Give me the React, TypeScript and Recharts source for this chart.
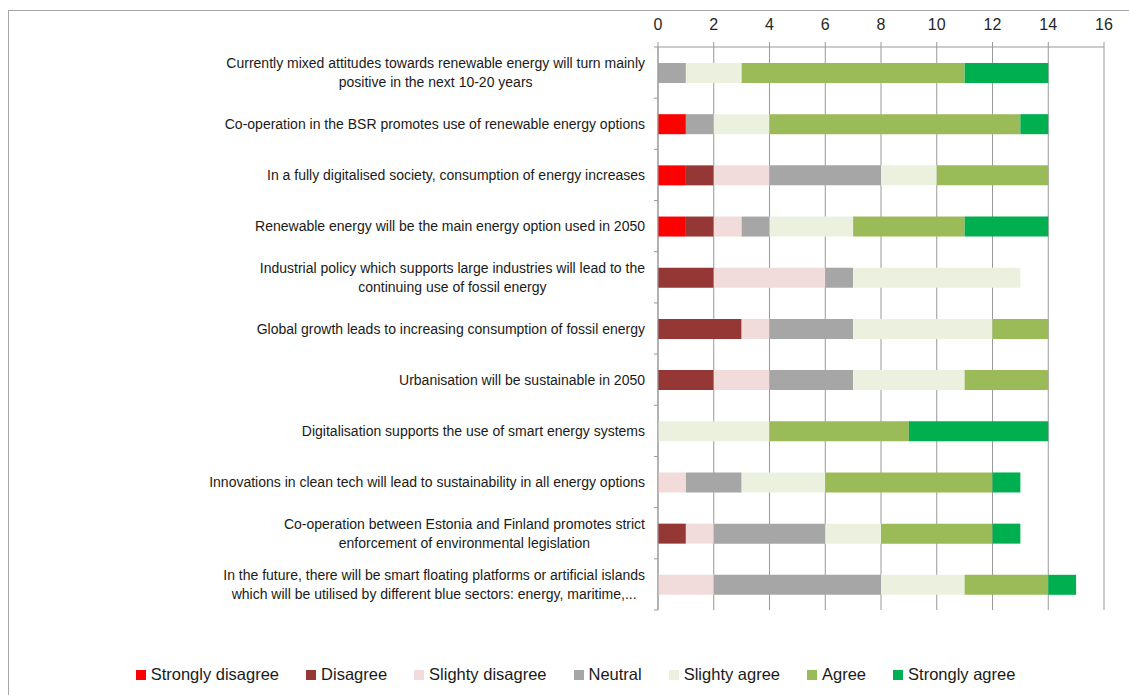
import { BarChart, Bar, XAxis, YAxis, CartesianGrid, Legend } from "recharts";

const statements = [
  "Currently mixed attitudes towards renewable energy will turn mainly\npositive in the next 10-20 years",
  "Co-operation in the BSR promotes use of renewable energy options",
  "In a fully digitalised society, consumption of energy increases",
  "Renewable energy will be the main energy option used in 2050",
  "Industrial policy which supports large industries will lead to the\ncontinuing use of fossil energy",
  "Global growth leads to increasing consumption of fossil energy",
  "Urbanisation will be sustainable in 2050",
  "Digitalisation supports the use of smart energy systems",
  "Innovations in clean tech will lead to sustainability in all energy options",
  "Co-operation between Estonia and Finland promotes strict\nenforcement of environmental legislation",
  "In the future, there will be smart floating platforms or artificial islands\nwhich will be utilised by different blue sectors: energy, maritime,...",
];

const stronglyDisagree = [0, 1, 1, 1, 0, 0, 0, 0, 0, 0, 0];
const disagree = [0, 0, 1, 1, 2, 3, 2, 0, 0, 1, 0];
const slightlyDisagree = [0, 0, 2, 1, 4, 1, 2, 0, 1, 1, 2];
const neutral = [1, 1, 4, 1, 1, 3, 3, 0, 2, 4, 6];
const slightlyAgree = [2, 2, 2, 3, 6, 5, 4, 4, 3, 2, 3];
const agree = [8, 9, 4, 4, 0, 2, 3, 5, 6, 4, 3];
const stronglyAgree = [3, 1, 0, 3, 0, 0, 0, 5, 1, 1, 1];

const xTicks = [0, 2, 4, 6, 8, 10, 12, 14, 16];

const series = [
  { key: "sd", name: "Strongly disagree", color: "#FF0000", values: stronglyDisagree },
  { key: "d", name: "Disagree", color: "#953735", values: disagree },
  { key: "sld", name: "Slighty disagree", color: "#F2DCDB", values: slightlyDisagree },
  { key: "n", name: "Neutral", color: "#A6A6A6", values: neutral },
  { key: "sla", name: "Slighty agree", color: "#EBF1DE", values: slightlyAgree },
  { key: "a", name: "Agree", color: "#9BBB59", values: agree },
  { key: "sa", name: "Strongly agree", color: "#00B050", values: stronglyAgree },
];

const data = statements.map((name, i) => {
  const row: Record<string, string | number> = { name };
  series.forEach((s) => {
    row[s.key] = s.values[i];
  });
  return row;
});

const LABEL_FONT = '14px "Liberation Sans", Arial, sans-serif';
const AXIS_GREY = "#999999";

let measureCtx: CanvasRenderingContext2D | null = null;
const textWidth = (t: string) => {
  if (!measureCtx) {
    measureCtx = document.createElement("canvas").getContext("2d");
  }
  if (!measureCtx) return t.length * 6.3;
  measureCtx.font = LABEL_FONT;
  return measureCtx.measureText(t).width;
};

// category label: lines centred as a block, block right-aligned against the axis,
// plus an Excel-style tick mark at the band boundary
const StatementTick = (props: any) => {
  const { x, y, payload, index } = props;
  const half = payload?.offset ?? 25.6;
  const lines = String(payload.value).split("\n");
  const right = x - 2;
  const blockW = Math.max(...lines.map(textWidth));
  const cx = right - blockW / 2;
  const lh = 19;
  const y0 = y - ((lines.length - 1) * lh) / 2;
  const axisX = x + 11;
  return (
    <g>
      <line x1={axisX - 4} x2={axisX} y1={y - half} y2={y - half} stroke={AXIS_GREY} />
      {index === statements.length - 1 && (
        <line x1={axisX - 4} x2={axisX} y1={y + half} y2={y + half} stroke={AXIS_GREY} />
      )}
      <text
        x={cx}
        y={y0}
        textAnchor="middle"
        dominantBaseline="central"
        style={{ font: LABEL_FONT }}
        fill="#1a1a1a"
      >
        {lines.map((l, i) => (
          <tspan key={i} x={cx} y={y0 + i * lh}>
            {l}
          </tspan>
        ))}
      </text>
    </g>
  );
};

const LegendRow = () => (
  <div
    style={{
      display: "flex",
      justifyContent: "center",
      gap: 27,
      paddingLeft: 22,
      font: '16.5px "Liberation Sans", Arial, sans-serif',
      color: "#1a1a1a",
    }}
  >
    {series.map((s) => (
      <div key={s.key} style={{ display: "flex", alignItems: "center", gap: 5 }}>
        <span style={{ width: 10, height: 10, background: s.color, display: "inline-block" }} />
        <span>{s.name}</span>
      </div>
    ))}
  </div>
);

export default function App() {
  return (
    <div
      style={{
        position: "fixed",
        left: 0,
        top: 0,
        width: 1129,
        height: 695,
        overflow: "hidden",
        background: "#fff",
      }}
    >
      <div
        style={{
          position: "absolute",
          left: 8,
          top: 10,
          width: 1300,
          height: 900,
          border: "1px solid #a6a6a6",
        }}
      />
      <div style={{ position: "absolute", left: 0, top: 0 }}>
        <BarChart
          width={1129}
          height={695}
          data={data}
          layout="vertical"
          margin={{ top: 0, right: 25, left: 0, bottom: 85 }}
          barSize={20}
        >
          <CartesianGrid horizontal={false} stroke={AXIS_GREY} />
          <XAxis
            type="number"
            orientation="top"
            domain={[0, 16]}
            ticks={xTicks}
            height={47}
            tickSize={5}
            tickMargin={12}
            axisLine={{ stroke: AXIS_GREY }}
            tickLine={{ stroke: AXIS_GREY }}
            tick={{ fontSize: 16, fill: "#262626", fontFamily: '"Liberation Sans", Arial, sans-serif' }}
          />
          <YAxis
            type="category"
            dataKey="name"
            width={658}
            interval={0}
            tickLine={false}
            tickSize={0}
            tickMargin={11}
            axisLine={{ stroke: AXIS_GREY }}
            tick={<StatementTick />}
          />
          <Legend
            layout="horizontal"
            verticalAlign="middle"
            align="center"
            wrapperStyle={{ top: 665, left: 0, width: 1129 }}
            content={() => <LegendRow />}
          />
          {series.map((s) => (
            <Bar
              key={s.key}
              dataKey={s.key}
              name={s.name}
              stackId="votes"
              fill={s.color}
              isAnimationActive={false}
            />
          ))}
        </BarChart>
      </div>
    </div>
  );
}
